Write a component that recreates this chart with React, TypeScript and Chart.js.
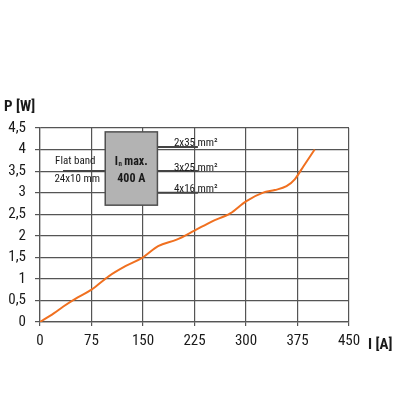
import React, { useEffect, useRef } from "react";
import { Chart, registerables } from "chart.js";

Chart.register(...registerables);

const currentA: number[] = [0, 20, 34, 55, 75, 100, 125, 150, 172, 199, 225, 250, 277, 300, 325, 342, 359, 371, 384, 400];
const powerW: number[] = [0, 0.2, 0.36, 0.57, 0.75, 1.06, 1.3, 1.5, 1.76, 1.91, 2.12, 2.33, 2.52, 2.8, 3.0, 3.06, 3.15, 3.31, 3.62, 4.0];

const xTickValues: number[] = [0, 75, 150, 225, 300, 375, 450];
const yTickValues: number[] = [0, 0.5, 1, 1.5, 2, 2.5, 3, 3.5, 4, 4.5];

const cableLabels: string[] = ["2x35 mm²", "3x25 mm²", "4x16 mm²"];
const cableLevels: number[] = [4.06, 3.5, 3.0];
const boxTitle = "max.";
const boxValue = "400 A";
const leftLabels: string[] = ["Flat band", "24x10 mm"];

const NARROW = '"Roboto Condensed", "DejaVu Sans Condensed", sans-serif';

const annotationPlugin = {
  id: "annot",
  afterDatasetsDraw(chart: any) {
    const { ctx } = chart;
    const xs = chart.scales.x;
    const ys = chart.scales.y;
    const px = (v: number) => xs.getPixelForValue(v);
    const py = (v: number) => ys.getPixelForValue(v);
    ctx.save();
    const bx0 = px(95), bx1 = px(171), by0 = py(4.41), by1 = py(2.71);
    ctx.strokeStyle = "#444";
    ctx.lineWidth = 2;
    ctx.beginPath();
    ctx.moveTo(px(33.5), py(3.5));
    ctx.lineTo(bx0, py(3.5));
    cableLevels.forEach((lv) => {
      ctx.moveTo(bx1, py(lv));
      ctx.lineTo(px(230), py(lv));
    });
    ctx.stroke();
    ctx.fillStyle = "#b3b3b3";
    ctx.fillRect(bx0, by0, bx1 - bx0, by1 - by0);
    ctx.strokeStyle = "#505050";
    ctx.lineWidth = 1.5;
    ctx.strokeRect(bx0, by0, bx1 - bx0, by1 - by0);
    ctx.fillStyle = "#1a1a1a";
    ctx.textBaseline = "middle";
    const cx = (bx0 + bx1) / 2;
    const ty = py(3.72);
    ctx.font = `bold 12px ${NARROW}`;
    const wI = ctx.measureText("I").width;
    const wT = ctx.measureText(" " + boxTitle).width;
    ctx.font = `bold 7px ${NARROW}`;
    const wn = ctx.measureText("n").width;
    const sx = cx - (wI + wn + wT) / 2;
    ctx.textAlign = "left";
    ctx.font = `bold 12px ${NARROW}`;
    ctx.fillText("I", sx, ty);
    ctx.font = `bold 7px ${NARROW}`;
    ctx.fillText("n", sx + wI + 0.5, ty + 3);
    ctx.font = `bold 12px ${NARROW}`;
    ctx.fillText(" " + boxTitle, sx + wI + wn, ty);
    ctx.textAlign = "center";
    ctx.fillText(boxValue, cx, py(3.32));
    ctx.font = `11px ${NARROW}`;
    ctx.textAlign = "left";
    ctx.fillText(leftLabels[0], px(22), py(3.72));
    ctx.fillText(leftLabels[1], px(21), py(3.32));
    ctx.textBaseline = "alphabetic";
    cableLabels.forEach((t, i) => {
      ctx.fillText(t, px(195), py(cableLevels[i]) - 0.5);
    });
    ctx.font = `bold 15px ${NARROW}`;
    ctx.textBaseline = "middle";
    ctx.fillText("P [W]", 4, 107);
    ctx.fillText("I [A]", 368, 345);
    ctx.restore();
  },
};

export default function App() {
  const ref = useRef<HTMLCanvasElement | null>(null);
  useEffect(() => {
    if (!ref.current) return;
    const chart = new Chart(ref.current, {
      type: "line",
      data: {
        datasets: [
          {
            data: currentA.map((x, i) => ({ x, y: powerW[i] })),
            borderColor: "#f07020",
            borderWidth: 2,
            pointRadius: 0,
            cubicInterpolationMode: "monotone",
            fill: false,
          },
        ],
      },
      options: {
        animation: false,
        responsive: false,
        maintainAspectRatio: false,
        layout: { padding: { top: 128, right: 67, left: 0, bottom: 0 } },
        plugins: { legend: { display: false }, tooltip: { enabled: false } },
        scales: {
          x: {
            type: "linear",
            min: 0,
            max: 450,
            afterBuildTicks: (s: any) => {
              s.ticks = xTickValues.map((v) => ({ value: v }));
            },
            afterFit: (s: any) => {
              s.height = 94;
            },
            ticks: {
              color: "#1a1a1a",
              font: { family: NARROW, size: 15 },
              padding: 6,
              maxRotation: 0,
              callback: (v: any) => String(v),
            },
            grid: { color: "#555", lineWidth: 1.2, tickLength: 4, drawTicks: true },
            border: { color: "#555", width: 1.2 },
          },
          y: {
            type: "linear",
            min: 0,
            max: 4.5,
            afterBuildTicks: (s: any) => {
              s.ticks = yTickValues.map((v) => ({ value: v }));
            },
            afterFit: (s: any) => {
              s.width = 40;
            },
            ticks: {
              color: "#1a1a1a",
              font: { family: NARROW, size: 15 },
              padding: 9,
              callback: (v: any) => String(v).replace(".", ","),
            },
            grid: { color: "#555", lineWidth: 1.2, tickLength: 5, drawTicks: true },
            border: { color: "#555", width: 1.2 },
          },
        },
      },
      plugins: [annotationPlugin],
    });
    return () => chart.destroy();
  }, []);
  return (
    <div style={{ position: "absolute", left: 0, top: 0, width: 416, height: 416, background: "#fff" }}>
      <canvas ref={ref} width={416} height={416} style={{ width: 416, height: 416 }} />
    </div>
  );
}
